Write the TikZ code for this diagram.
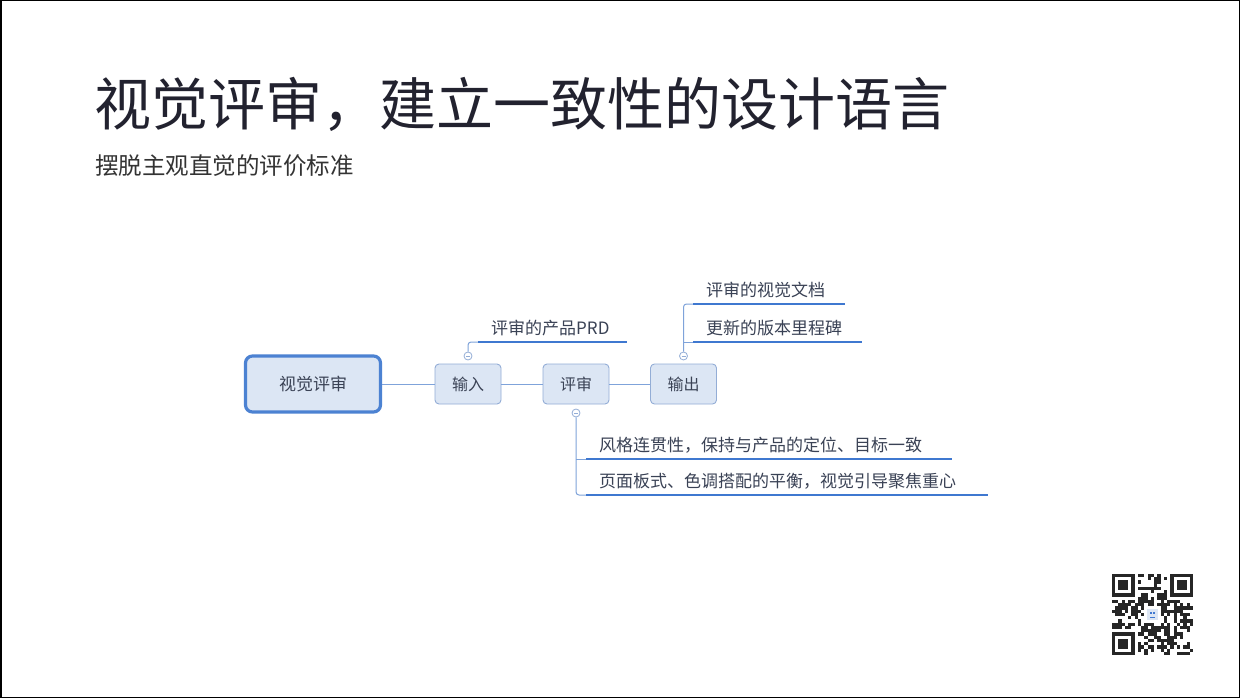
\documentclass[tikz,border=0pt]{standalone}
\usepackage{fontspec}
\setmainfont{Noto Sans CJK SC}
\usetikzlibrary{positioning}

\definecolor{titleink}{HTML}{22222F}
\definecolor{subink}{HTML}{333333}
\definecolor{boxfill}{HTML}{DCE6F4}
\definecolor{boxline}{HTML}{93ADD6}
\definecolor{mainline}{HTML}{4C82D2}
\definecolor{linkline}{HTML}{7FA3DA}
\definecolor{leafbar}{HTML}{3F78D0}
\definecolor{labelink}{HTML}{3A4255}

\tikzset{
  topic/.style={draw=boxline, fill=boxfill, rounded corners=4pt, line width=0.9pt,
    minimum width=66pt, minimum height=40pt, text=labelink,
    font=\fontsize{16}{16}\selectfont},
  central/.style={topic, draw=mainline, line width=3.2pt, rounded corners=7pt,
    minimum width=135pt, minimum height=56pt, font=\fontsize{17}{17}\selectfont},
  toggle/.style={circle, draw=boxline, fill=white, line width=0.8pt,
    minimum size=8pt, inner sep=0pt},
  leaf/.style={anchor=base west, inner sep=0pt, text=labelink,
    font=\fontsize{17}{17}\selectfont},
  link/.style={draw=linkline, line width=1pt, rounded corners=3pt},
  bar/.style={draw=leafbar, line width=2.2pt}
}

\begin{document}
\begin{tikzpicture}[x=1pt, y=-1pt]
  % page and frame
  \useasboundingbox (0,0) rectangle (1240,698);
  \fill[white] (0,0) rectangle (1240,698);
  \draw[black, line width=1.5pt] (0.75,0.75) rectangle (1239.25,697.25);

  % headings
  \node[anchor=base west, inner sep=0pt, text=titleink,
    font=\fontsize{57}{57}\selectfont] (title) at (94,126) {视觉评审，建立一致性的设计语言};
  \node[anchor=base west, inner sep=0pt, text=subink,
    font=\fontsize{23.5}{23.5}\selectfont] (subtitle) at (95,175) {摆脱主观直觉的评价标准};

  % the map
  \node[central] (root) at (313,384) {视觉评审};
  \node[topic] (input) at (468,384) {输入};
  \node[topic] (review) at (576,384) {评审};
  \node[topic] (output) at (683.5,384) {输出};

  \draw[link] (root) -- (input);
  \draw[link] (input) -- (review);
  \draw[link] (review) -- (output);

  % toggles
  \node[toggle] (inTog) at (468,356) {};
  \node[toggle] (revTog) at (576,413) {};
  \node[toggle] (outTog) at (683.5,356) {};
  \foreach \t in {inTog, revTog, outTog}
    \draw[boxline, line width=0.6pt] ([xshift=-2pt]\t.center) -- ([xshift=2pt]\t.center);

  % input branch
  \coordinate (prdL) at (478,342);
  \coordinate (prdR) at (627,342);
  \node[leaf] (prd) at (491,334) {评审的产品PRD};
  \draw[link] (inTog.north) |- (prdL);
  \draw[bar] (prdL) -- (prdR);

  % output branch
  \coordinate (docL) at (693,304);
  \coordinate (docR) at (845,304);
  \coordinate (msL) at (693,342);
  \coordinate (msR) at (862,342);
  \node[leaf] (doc) at (706,296) {评审的视觉文档};
  \node[leaf] (ms) at (706,334) {更新的版本里程碑};
  \draw[link] (outTog.north) |- (docL);
  \draw[link] (outTog.north |- msL) -- (msL);
  \draw[bar] (docL) -- (docR);
  \draw[bar] (msL) -- (msR);

  % review branch
  \coordinate (styleL) at (586,459);
  \coordinate (styleR) at (952,459);
  \coordinate (layoutL) at (586,495);
  \coordinate (layoutR) at (988,495);
  \node[leaf] (style) at (599,451) {风格连贯性，保持与产品的定位、目标一致};
  \node[leaf] (layout) at (599,487) {页面板式、色调搭配的平衡，视觉引导聚焦重心};
  \draw[link] (revTog.south) |- (layoutL);
  \draw[link] (revTog.south |- styleL) -- (styleL);
  \draw[bar] (styleL) -- (styleR);
  \draw[bar] (layoutL) -- (layoutR);

  % qr code
  \pgfmathsetseed{2718}
  \begin{scope}[shift={(1112,574)}, x=3.24pt, y=-3.24pt]
    \foreach \i in {0,...,24}
      \foreach \j in {0,...,24} {
        \pgfmathtruncatemacro\qrbit{and(rnd<0.5,
          and(not(and(\i<8,\j<8)), and(not(and(\i>16,\j<8)),
          and(not(and(\i<8,\j>16)), not(and(and(\i>9,\i<15),and(\j>9,\j<15)))))))}
        \ifnum\qrbit=1 \fill[black!85] (\i,\j) rectangle ++(1,1); \fi
      }
    \foreach \cx/\cy in {0/0, 18/0, 0/18} {
      \fill[black!85] (\cx,\cy) rectangle ++(7,7);
      \fill[white] (\cx+1,\cy+1) rectangle ++(5,5);
      \fill[black!85] (\cx+2,\cy+2) rectangle ++(3,3);
    }
    \fill[white, rounded corners=2pt] (10,10) rectangle (15,15);
    \fill[boxfill] (10.8,10.8) rectangle (14.2,14.2);
    \fill[leafbar] (11.6,11.8) rectangle ++(0.6,0.6);
    \fill[leafbar] (12.8,11.8) rectangle ++(0.6,0.6);
    \fill[leafbar] (11.6,13.2) rectangle ++(1.8,0.4);
  \end{scope}
\end{tikzpicture}
\end{document}
